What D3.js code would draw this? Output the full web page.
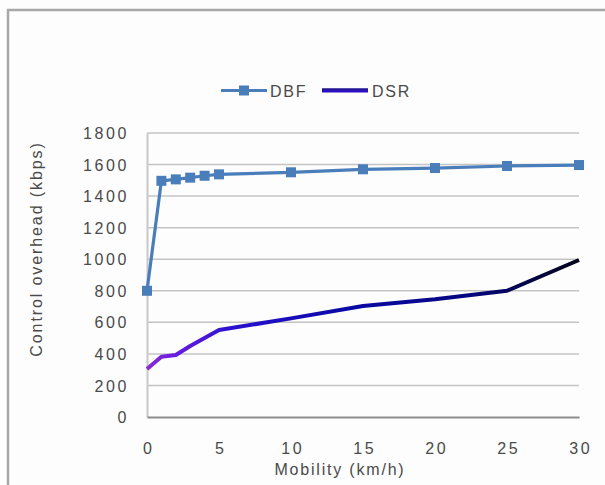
<!DOCTYPE html>
<html><head><meta charset="utf-8">
<script src="https://cdn.jsdelivr.net/npm/d3@7"></script>
<style>
body{margin:0;background:#fff;}
svg text{font-family:"Liberation Sans",Arial,sans-serif;fill:#4a4a4a;}
</style></head>
<body>
<svg id="c" width="605" height="485"></svg>
<script>
const mobility = [0, 1, 2, 3, 4, 5, 10, 15, 20, 25, 30];
const dbf = [800, 1497, 1506, 1517, 1529, 1538, 1551, 1570, 1578, 1591, 1597];
const dsr = [304, 382, 393, 450, 500, 551, 625, 703, 746, 800, 995];
const xTicks = [0, 5, 10, 15, 20, 25, 30];
const yTicks = [0, 200, 400, 600, 800, 1000, 1200, 1400, 1600, 1800];
const seriesNames = ["DBF", "DSR"];

const svg = d3.select("#c");
svg.append("rect").attr("width",605).attr("height",485).attr("fill","#fdfdfd");
svg.append("rect").attr("x",8).attr("y",10).attr("width",700).attr("height",600)
  .attr("fill","none").attr("stroke","#a8a8a8").attr("stroke-width",2.5);

const x = d3.scaleLinear().domain([0,30]).range([147,579]);
const y = d3.scaleLinear().domain([0,1800]).range([417,133]);

const defs = svg.append("defs");
const grad = defs.append("linearGradient").attr("id","dsrg").attr("gradientUnits","userSpaceOnUse")
  .attr("x1",x(0)).attr("x2",x(30)).attr("y1",0).attr("y2",0);
[[0,"#8a2ad0"],[0.06,"#6a1ee0"],[0.2,"#2a10d0"],[0.45,"#0a0aa8"],[0.75,"#060680"],[1,"#040418"]]
  .forEach(([o,c])=>grad.append("stop").attr("offset",o).attr("stop-color",c));

// gridlines
svg.append("g").selectAll("line").data(yTicks.filter(d=>d>0)).join("line")
  .attr("x1",x(0)).attr("x2",x(30)).attr("y1",d=>y(d)).attr("y2",d=>y(d))
  .attr("stroke","#c4c4c4").attr("stroke-width",1.5);

// axes
const yAxis = svg.append("g").attr("transform",`translate(${x(0)},0)`)
  .call(d3.axisLeft(y).tickValues(yTicks).tickFormat(d3.format("d")).tickSize(0).tickPadding(18));
yAxis.select(".domain").attr("stroke","#c8c8c8").attr("stroke-width",2);
const xAxis = svg.append("g").attr("transform",`translate(0,${y(0)})`)
  .call(d3.axisBottom(x).tickValues(xTicks).tickFormat(d3.format("d")).tickSize(0).tickPadding(26));
xAxis.select(".domain").attr("stroke","#8c8c8c").attr("stroke-width",2);
svg.selectAll(".tick text").attr("font-size",16).attr("font-family","Liberation Sans, Arial, sans-serif")
  .attr("fill","#4a4a4a").style("letter-spacing","2.6px");
yAxis.selectAll(".tick text").attr("dy","0.35em");
xAxis.selectAll(".tick text").attr("dx","1.3px");

// titles
svg.append("text").attr("x",340).attr("y",475).attr("text-anchor","middle")
  .attr("font-size",16).style("letter-spacing","1.8px").text("Mobility (km/h)");
svg.append("text").attr("transform","translate(42,249) rotate(-90)").attr("text-anchor","middle")
  .attr("font-size",16).style("letter-spacing","1.9px").text("Control overhead (kbps)");

// lines
const line = d3.line().x((d,i)=>x(mobility[i])).y(d=>y(d));
svg.append("path").datum(dsr).attr("d",line).attr("fill","none")
  .attr("stroke","url(#dsrg)").attr("stroke-width",4).attr("stroke-linejoin","round");
svg.append("path").datum(dbf).attr("d",line).attr("fill","none")
  .attr("stroke","#4a7ebb").attr("stroke-width",3.2).attr("stroke-linejoin","round");
svg.append("g").selectAll("rect").data(dbf).join("rect")
  .attr("x",(d,i)=>x(mobility[i])-5).attr("y",d=>y(d)-5).attr("width",10).attr("height",10)
  .attr("fill","#4a7ebb");

// legend
const lg = svg.append("g");
lg.append("line").attr("x1",221).attr("x2",267).attr("y1",90.5).attr("y2",90.5)
  .attr("stroke","#4a7ebb").attr("stroke-width",3.2);
lg.append("rect").attr("x",239).attr("y",85.5).attr("width",10).attr("height",10).attr("fill","#4a7ebb");
lg.append("text").attr("x",270).attr("y",96.5).attr("font-size",16).style("letter-spacing","1.7px").text(seriesNames[0]);
lg.append("line").attr("x1",322).attr("x2",368).attr("y1",90.5).attr("y2",90.5)
  .attr("stroke","#2a10c0").attr("stroke-width",4);
lg.append("line").attr("x1",322).attr("x2",368).attr("y1",89).attr("y2",89)
  .attr("stroke","#1a1a70").attr("stroke-width",1.2);
lg.append("text").attr("x",372).attr("y",96.5).attr("font-size",16).style("letter-spacing","1.7px").text(seriesNames[1]);
</script>
</body></html>
